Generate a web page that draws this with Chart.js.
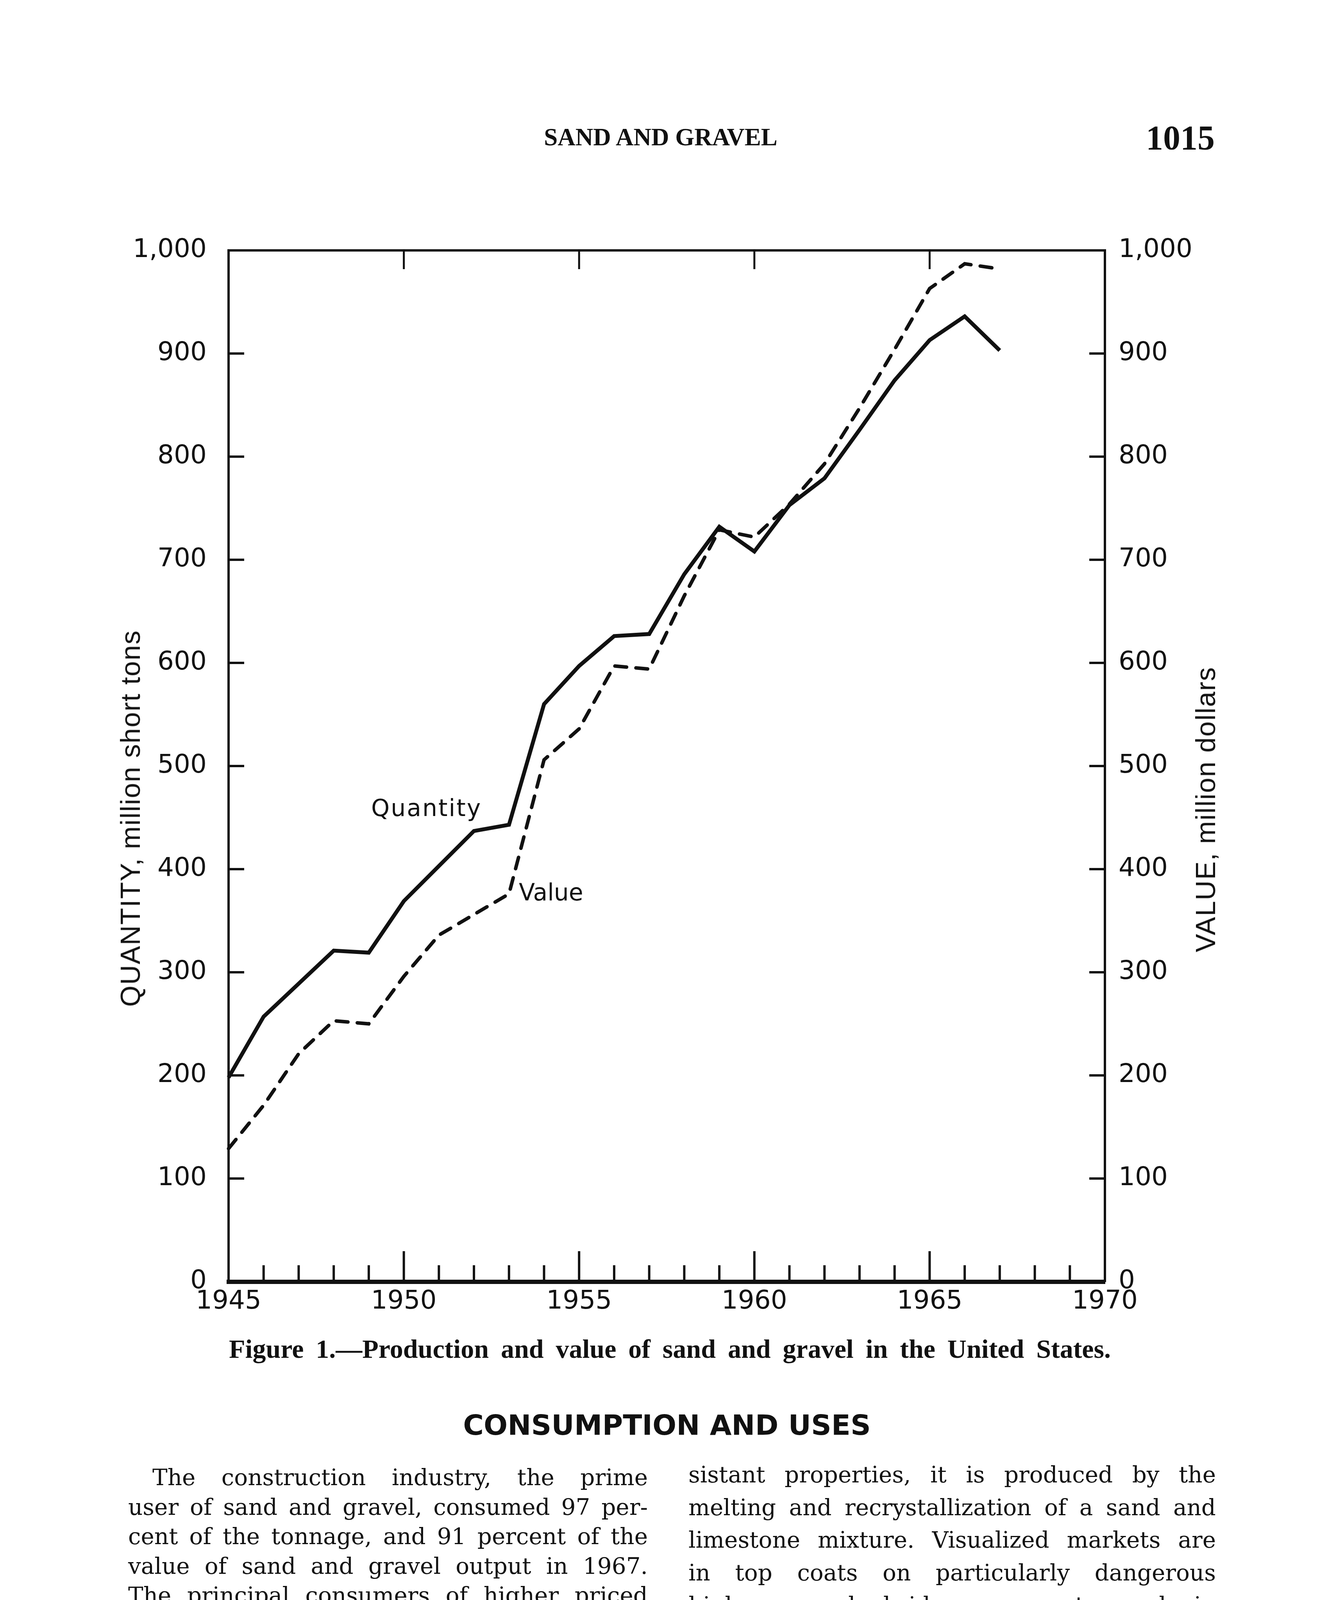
<!DOCTYPE html>
<html>
<head>
<meta charset="utf-8">
<script src="https://cdn.jsdelivr.net/npm/chart.js@4.4.1/dist/chart.umd.min.js"></script>
<style>
  html, body { margin: 0; padding: 0; background: #fff; }
  body { width: 3399px; height: 5459px; position: relative; overflow: hidden; color: #111; }
  #c { position: absolute; left: 0; top: 0; }
  .t { position: absolute; white-space: nowrap; line-height: 1; }
  .serif { font-family: "Liberation Serif", serif; }
  .body { font-family: "DejaVu Serif", serif; font-size: 58px; text-align: justify; text-align-last: justify; }
  .lc { left: 328px; width: 1330px; }
  .rc { left: 1762px; width: 1350px; }
  .sans { font-family: "DejaVu Sans", sans-serif; }
  .axt { font-family: "Liberation Sans", sans-serif; font-size: 70px; letter-spacing: 2px; transform: translate(-50%, -50%) rotate(-90deg); }
</style>
</head>
<body>
<canvas id="c" width="3399" height="3420"></canvas>

<div class="t serif" style="left:1691px;top:320px;font-size:63px;font-weight:bold;transform:translateX(-50%);">SAND AND GRAVEL</div>
<div class="t serif" style="left:2933px;top:309px;font-size:88px;font-weight:bold;">1015</div>

<div class="t axt" style="left:334px;top:2095px;">QUANTITY, million short tons</div>
<div class="t axt" style="left:3086px;top:2072px;">VALUE, million dollars</div>

<div class="t sans" style="left:950px;top:2038px;font-size:60px;letter-spacing:3px;">Quantity</div>
<div class="t sans" style="left:1328px;top:2254px;font-size:60px;">Value</div>

<div class="t serif" style="left:586px;top:3419px;width:2257px;font-size:68px;font-weight:bold;text-align:justify;text-align-last:justify;">Figure 1.—Production and value of sand and gravel in the United States.</div>

<div class="t sans" style="left:1707px;top:3612px;font-size:72px;font-weight:bold;transform:translateX(-50%);">CONSUMPTION AND USES</div>

<div class="t body lc" style="top:3753px;padding-left:62px;width:1268px;">The construction industry, the prime</div>
<div class="t body lc" style="top:3829px;">user of sand and gravel, consumed 97 per-</div>
<div class="t body lc" style="top:3904px;">cent of the tonnage, and 91 percent of the</div>
<div class="t body lc" style="top:3980px;">value of sand and gravel output in 1967.</div>
<div class="t body lc" style="top:4055px;">The principal consumers of higher priced</div>
<div class="t body lc" style="top:4131px;">industrial sands are the foundry and glass</div>
<div class="t body lc" style="top:4207px;">industries. A new synthetic aggregate</div>
<div class="t body lc" style="top:4282px;">called Sinopal was announced by Martin</div>
<div class="t body lc" style="top:4358px;">Marietta Corp. during the year. A highly</div>
<div class="t body lc" style="top:4433px;">reflective, white aggregate with skid-re-</div>

<div class="t body rc" style="top:3746px;">sistant properties, it is produced by the</div>
<div class="t body rc" style="top:3830px;">melting and recrystallization of a sand and</div>
<div class="t body rc" style="top:3913px;">limestone mixture. Visualized markets are</div>
<div class="t body rc" style="top:3997px;">in top coats on particularly dangerous</div>
<div class="t body rc" style="top:4080px;">highway and bridge segments and in</div>
<div class="t body rc" style="top:4164px;">traffic control and safety markings on</div>
<div class="t body rc" style="top:4248px;">pavements, including lane lines, dividers,</div>
<div class="t body rc" style="top:4331px;">direction arrows, pavement edges, crossing</div>
<div class="t body rc" style="top:4415px;text-align:left;text-align-last:left;">zones, interchanges, and intersections.</div>

<script>
// figure data
const years = [1945, 1946, 1947, 1948, 1949, 1950, 1951, 1952, 1953, 1954, 1955, 1956,
  1957, 1958, 1959, 1960, 1961, 1962, 1963, 1964, 1965, 1966, 1967];
const quantity = [198, 257, 289, 321, 319, 369, 403, 437, 443, 560, 597, 626,
  628, 686, 732, 708, 753, 779, 826, 874, 913, 936, 903];   // million short tons
const value = [129, 171, 221, 253, 250, 296, 336, 356, 376, 506, 536, 597,
  594, 665, 729, 722, 754, 793, 847, 904, 963, 987, 982];   // million dollars

const xLabelYears = [1945, 1950, 1955, 1960, 1965, 1970];
const topTickYears = [1950, 1955, 1960, 1965];
const hundredTicks = [100, 200, 300, 400, 500, 600, 700, 800, 900];

const W = 3399, H = 3420;
const AREA = { left: 585, right: 2828, top: 641, bottom: 3281 };
const INK = '#111';

const tickMarks = {
  id: 'tickMarks',
  afterDatasetsDraw(chart) {
    const { ctx, chartArea: a, scales: { x, y, y2 } } = chart;
    const seg = (x1, y1, x2, y2_) => { ctx.beginPath(); ctx.moveTo(x1, y1); ctx.lineTo(x2, y2_); ctx.stroke(); };
    ctx.save();
    ctx.strokeStyle = INK;
    ctx.lineWidth = 6;
    hundredTicks.forEach(v => {
      seg(a.left, y.getPixelForValue(v), a.left + 40, y.getPixelForValue(v));
      seg(a.right - 40, y2.getPixelForValue(v), a.right, y2.getPixelForValue(v));
    });
    ctx.lineWidth = 5;
    topTickYears.forEach(yr => {
      const px = x.getPixelForValue(yr);
      seg(px, a.top, px, a.top + 48);
    });
    ctx.lineWidth = 6;
    for (let yr = x.min + 1; yr < x.max; yr++) {
      const px = x.getPixelForValue(yr);
      seg(px, a.bottom, px, a.bottom - (yr % 5 === 0 ? 78 : 42));
    }
    ctx.restore();
  },
};

const tickFont = { family: '"DejaVu Sans", sans-serif', size: 66 };
const noGrid = { display: true, drawOnChartArea: false, drawTicks: false };
const fmt = v => (v === 1000 ? '1,000' : String(v));

new Chart(document.getElementById('c'), {
  type: 'line',
  data: {
    datasets: [
      {
        label: 'Quantity',
        data: years.map((yr, i) => ({ x: yr, y: quantity[i] })),
        borderColor: INK, borderWidth: 10, pointRadius: 0, tension: 0,
        borderJoinStyle: 'miter', clip: false, xAxisID: 'x', yAxisID: 'y',
      },
      {
        label: 'Value',
        data: years.map((yr, i) => ({ x: yr, y: value[i] })),
        borderColor: INK, borderWidth: 9, pointRadius: 0, tension: 0,
        borderDash: [30, 24], borderCapStyle: 'round', clip: false, xAxisID: 'x', yAxisID: 'y2',
      },
    ],
  },
  options: {
    responsive: false,
    devicePixelRatio: 1,
    animation: false,
    layout: { padding: { top: AREA.top, left: 0, right: 0, bottom: 0 } },
    plugins: { legend: { display: false }, tooltip: { enabled: false } },
    scales: {
      x: {
        type: 'linear', position: 'bottom', min: 1945, max: 1970,
        afterBuildTicks: s => { s.ticks = xLabelYears.map(v => ({ value: v })); },
        ticks: { font: tickFont, color: INK, padding: 12, maxRotation: 0, autoSkip: false, callback: v => String(v) },
        grid: noGrid,
        border: { display: true, width: 11, color: INK },
        afterFit: s => { s.height = H - AREA.bottom; },
      },
      x2: {
        type: 'linear', position: 'top', min: 1945, max: 1970,
        ticks: { display: false },
        grid: noGrid,
        border: { display: true, width: 6, color: INK },
        afterFit: s => { s.height = 0; },
      },
      y: {
        position: 'left', min: 0, max: 1000,
        ticks: { stepSize: 100, font: tickFont, color: INK, padding: 56, callback: fmt },
        grid: noGrid,
        border: { display: true, width: 6, color: INK },
        afterFit: s => { s.width = AREA.left; },
      },
      y2: {
        position: 'right', min: 0, max: 1000,
        ticks: { stepSize: 100, font: tickFont, color: INK, padding: 35, callback: fmt },
        grid: noGrid,
        border: { display: true, width: 6, color: INK },
        afterFit: s => { s.width = W - AREA.right; },
      },
    },
  },
  plugins: [tickMarks],
});
</script>
</body>
</html>
